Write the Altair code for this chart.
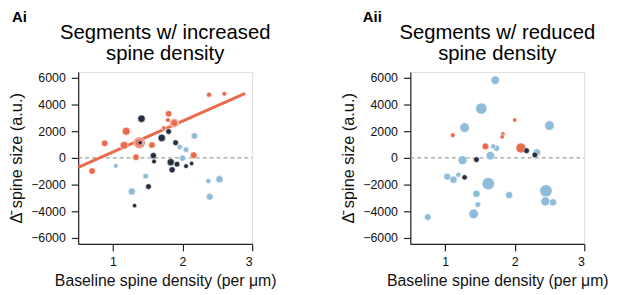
import altair as alt
import pandas as pd

# ---------- data ----------
# Panel Ai: segments with increased spine density
inc_blue_x = [2.17, 1.96, 2.05, 2.00, 1.04, 1.47, 1.27, 2.37, 2.53, 2.39]
inc_blue_y = [1650, 815, 620, -20, -590, -1360, -2520, -1730, -1600, -2910]
inc_blue_n = [10, 6, 7, 9, 4, 7, 13, 5, 13, 11]

inc_orange_x = [0.70, 0.88, 1.19, 1.16, 1.38, 1.38, 1.33, 1.56, 1.80, 1.79, 1.88, 1.88, 2.16, 2.38, 2.60, 1.73]
inc_orange_y = [-985, 1090, 2000, 940, 1135, 1135, 50, 960, 3310, 2840, 2620, 2620, 200, 4740, 4810, 2240]
inc_orange_n = [10, 10, 16, 16, 38, 20, 10, 10, 10, 4, 22, 12, 11, 5, 4, 3]

inc_navy_x = [1.41, 1.39, 1.70, 1.80, 1.90, 1.58, 1.59, 1.83, 1.92, 1.85, 2.05, 2.13, 1.51, 1.31]
inc_navy_y = [2940, 1135, 1500, 1975, 1140, 170, -270, -320, -470, -890, -620, -420, -2150, -3580]
inc_navy_n = [14, 3, 14, 7, 7, 9, 4, 13, 7, 9, 4, 3, 7, 3]

# regression line of panel Ai
fit_x = [0.5, 2.9]
fit_y = [-715, 4845]

# Panel Aii: segments with reduced spine density
red_blue_x = [1.72, 1.52, 1.28, 2.50, 1.69, 1.74, 1.65, 2.32, 1.25, 1.03, 1.12, 1.19,
              1.62, 1.45, 1.92, 2.45, 2.44, 2.55, 1.47, 1.41, 0.75]
red_blue_y = [5830, 3700, 2270, 2420, 865, 715, 170, 420, -170, -1410, -1630, -1260,
              -1930, -2690, -2790, -2470, -3260, -3330, -3500, -4200, -4440]
red_blue_n = [19, 36, 25, 25, 5, 9, 19, 13, 22, 11, 13, 5,
              44, 13, 13, 44, 22, 13, 7, 25, 11]

red_orange_x = [1.11, 2.00, 1.83, 1.82, 1.58, 2.09]
red_orange_y = [1700, 2840, 1800, 1580, 865, 740]
red_orange_n = [4, 3, 3, 3, 11, 28]

red_navy_x = [1.45, 1.28, 2.17, 2.29]
red_navy_y = [-125, -1460, 540, 220]
red_navy_n = [7, 6, 7, 7]

zero_x = [0.5, 3.0]
x_ticks = [1, 2, 3]
y_ticks = [-6000, -4000, -2000, 0, 2000, 4000, 6000]

groups = ["light", "orange", "navy"]
group_colors = ["#8FBCD8", "#EA6A4C", "#252F40"]

FONT = "Liberation Sans"
W, H = 176, 174


def frame(xs, ys, ns, group):
    return pd.DataFrame({"x": xs, "y": ys, "n": ns, "group": group})


def build_points(parts):
    df = pd.concat(parts, ignore_index=True)
    df["rank"] = df["group"].map({g: i for i, g in enumerate(groups)})
    df = df.sort_values(["rank", "n"], ascending=[True, False]).reset_index(drop=True)
    return df


inc_df = build_points([
    frame(inc_blue_x, inc_blue_y, inc_blue_n, "light"),
    frame(inc_orange_x, inc_orange_y, inc_orange_n, "orange"),
    frame(inc_navy_x, inc_navy_y, inc_navy_n, "navy"),
])
red_df = build_points([
    frame(red_blue_x, red_blue_y, red_blue_n, "light"),
    frame(red_orange_x, red_orange_y, red_orange_n, "orange"),
    frame(red_navy_x, red_navy_y, red_navy_n, "navy"),
])

x_scale = alt.Scale(domain=[0.5, 3], nice=False, zero=False)
y_scale = alt.Scale(domain=[-6450, 6450], nice=False, zero=False)

x_axis = alt.Axis(values=x_ticks, format="d", title="Baseline spine density (per μm)",
                  tickSize=7, labelPadding=5, titlePadding=5, grid=False,
                  labelFontSize=12.5, titleFontSize=16, titleFontWeight="normal",
                  domainColor="#222", tickColor="#222", labelColor="#111", titleColor="#111",
                  domainWidth=1.2, tickWidth=1.2)
y_axis = alt.Axis(values=y_ticks, format="d", title="Δ̄ spine size (a.u.)",
                  tickSize=7, labelPadding=6, titlePadding=6, grid=False,
                  labelFontSize=12.5, titleFontSize=16.5, titleFontWeight="normal",
                  domainColor="#222", tickColor="#222", labelColor="#111", titleColor="#111",
                  domainWidth=1.2, tickWidth=1.2)


def panel(df, label, label_dx, title_text, with_fit):
    zero_df = pd.DataFrame({"x": [zero_x[0]], "x2": [zero_x[1]], "y": [0]})
    zero = alt.Chart(zero_df).mark_rule(color="#888", strokeDash=[4, 3], strokeWidth=1).encode(
        x=alt.X("x:Q", scale=x_scale, axis=x_axis),
        x2="x2:Q",
        y=alt.Y("y:Q", scale=y_scale, axis=y_axis),
    )
    layers = [zero]
    pts = alt.Chart(df).mark_circle(opacity=1, stroke="white", strokeWidth=0.6).encode(
        x=alt.X("x:Q", scale=x_scale, axis=x_axis),
        y=alt.Y("y:Q", scale=y_scale, axis=y_axis),
        size=alt.Size("n:Q", scale=alt.Scale(domain=[0, 64], range=[10, 225]), legend=None),
        color=alt.Color("group:N", scale=alt.Scale(domain=groups, range=group_colors), legend=None),
        order=alt.Order("order_idx:Q"),
    ).transform_window(order_idx="row_number()")
    if with_fit:
        fit_df = pd.DataFrame({"x": fit_x, "y": fit_y})
        fit = alt.Chart(fit_df).mark_line(color="#EA6A4C", strokeWidth=3).encode(
            x=alt.X("x:Q", scale=x_scale, axis=x_axis),
            y=alt.Y("y:Q", scale=y_scale, axis=y_axis),
        )
        layers.append(fit)
    layers.append(pts)
    one = alt.Data(values=[{"a": 1}])
    lab = alt.Chart(one).mark_text(font=FONT, fontSize=15, fontWeight="bold", align="left",
                                   baseline="top", color="#000").encode(
        x=alt.value(label_dx), y=alt.value(-62), text=alt.value(label))
    ttl = alt.Chart(one).mark_text(font=FONT, fontSize=20.5, align="center", baseline="alphabetic",
                                   lineBreak="\n", lineHeight=21, color="#000").encode(
        x=alt.value(W / 2), y=alt.value(-33), text=alt.value(title_text))
    layers += [lab, ttl]
    return alt.layer(*layers).properties(width=W, height=H)


left = panel(inc_df, "Ai", -67, "Segments w/ increased\nspine density", True)
right = panel(red_df, "Aii", -48, "Segments w/ reduced\nspine density", False)

chart = alt.hconcat(left, right, spacing=160, bounds="flush").configure_view(
    stroke=None
).configure(font=FONT, padding=0)

chart.save("out.html", embed_options={"renderer": "svg", "actions": False})
